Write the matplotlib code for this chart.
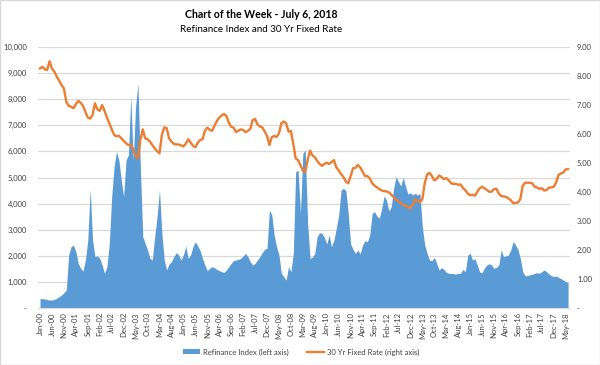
import numpy as np
import matplotlib
matplotlib.use('Agg')
import matplotlib.pyplot as plt
import pandas as pd
from matplotlib.lines import Line2D
from matplotlib.patches import Patch, Rectangle

plt.rcParams['font.family'] = ['Lato', 'DejaVu Sans']

months = pd.date_range('2000-01-01', '2018-06-01', freq='MS')

refi = [358, 358, 345, 320, 306, 306, 332, 370, 434, 498, 587, 690,
        2030, 2350, 2413, 2158, 1711, 1520, 1417, 1839, 2605, 4559, 2605, 1966,
        1992, 1903, 1647, 1328, 1583, 2477, 4265, 5415, 5989, 5670, 4904, 4265,
        5670, 5861, 8096, 5670, 7713, 8607, 5415, 2733, 2477, 2222, 1903, 1839,
        2733, 3499, 4520, 2860, 1839, 1456, 1686, 1775, 1966, 2120, 2030, 1839,
        2030, 2375, 1903, 2030, 2350, 2541, 2375, 2196, 1903, 1647, 1430, 1520,
        1583, 1545, 1481, 1430, 1392, 1366, 1456, 1583, 1711, 1813, 1839, 1864,
        1903, 1992, 2094, 1966, 1775, 1647, 1711, 1839, 1966, 2120, 2248, 2286,
        3754, 3563, 2797, 2350, 2030, 1328, 1200, 1073, 1583, 1392, 2094, 5223,
        5287, 3626, 5925, 6053, 3244, 1903, 1941, 2094, 2733, 2886, 2860, 2707,
        2452, 2797, 2350, 2605, 3052, 3563, 4520, 4584, 4495, 3627, 2452, 2248,
        2094, 2222, 2069, 2413, 2580, 2541, 2797, 3627, 3690, 3525, 3435, 3818,
        4291, 4137, 3716, 3882, 4584, 5031, 4840, 4674, 5006, 4648, 4367, 4418,
        4329, 4393, 4329, 4393, 3116, 2413, 2094, 1839, 1813, 1941, 1711, 1456,
        1545, 1481, 1366, 1328, 1328, 1315, 1302, 1328, 1328, 1481, 1392, 2030,
        2094, 1839, 1890, 1647, 1379, 1354, 1532, 1647, 1698, 1647, 1520, 1558,
        1647, 2222, 1966, 1992, 2030, 2222, 2541, 2413, 2248, 1903, 1392, 1239,
        1239, 1277, 1290, 1328, 1354, 1328, 1392, 1456, 1392, 1302, 1239, 1200,
        1226, 1175, 1124, 1073, 1009, 970]

rate = [8.26, 8.32, 8.23, 8.21, 8.51, 8.26, 8.15, 7.98, 7.84, 7.69, 7.57, 7.11,
        6.97, 6.94, 6.89, 7.03, 7.14, 7.08, 6.97, 6.76, 6.57, 6.53, 6.66, 7.06,
        6.85, 6.80, 7.00, 6.80, 6.57, 6.37, 6.16, 5.97, 5.92, 5.94, 5.85, 5.77,
        5.68, 5.62, 5.63, 5.47, 5.24, 5.16, 5.79, 6.16, 5.85, 5.82, 5.74, 5.62,
        5.51, 5.41, 5.33, 5.97, 6.23, 6.20, 5.85, 5.74, 5.66, 5.64, 5.64, 5.61,
        5.57, 5.66, 5.82, 5.71, 5.59, 5.54, 5.70, 5.79, 5.82, 6.11, 6.22, 6.14,
        6.11, 6.28, 6.45, 6.56, 6.64, 6.69, 6.62, 6.39, 6.25, 6.22, 6.07, 6.11,
        6.16, 6.14, 6.06, 6.11, 6.18, 6.48, 6.52, 6.33, 6.26, 6.23, 6.09, 5.94,
        5.62, 5.89, 5.93, 5.90, 6.02, 6.37, 6.43, 6.37, 6.08, 6.11, 5.66, 5.16,
        5.10, 4.92, 4.74, 4.70, 5.10, 5.43, 5.26, 5.20, 5.07, 4.97, 4.90, 4.97,
        5.01, 4.97, 5.03, 5.10, 4.85, 4.74, 4.62, 4.51, 4.36, 4.30, 4.55, 4.82,
        4.83, 4.93, 4.85, 4.70, 4.55, 4.55, 4.47, 4.30, 4.22, 4.16, 4.10, 4.05,
        4.03, 4.02, 3.99, 3.91, 3.82, 3.74, 3.69, 3.62, 3.55, 3.52, 3.47, 3.44,
        3.57, 3.75, 3.70, 3.64, 3.75, 4.30, 4.61, 4.66, 4.55, 4.40, 4.45, 4.57,
        4.52, 4.45, 4.48, 4.41, 4.30, 4.28, 4.28, 4.25, 4.26, 4.14, 4.06, 3.95,
        3.89, 3.91, 3.87, 4.01, 4.13, 4.18, 4.13, 4.07, 4.01, 4.01, 4.10, 4.11,
        3.95, 3.86, 3.85, 3.83, 3.78, 3.72, 3.62, 3.62, 3.64, 3.75, 4.21, 4.32,
        4.32, 4.32, 4.30, 4.18, 4.15, 4.11, 4.13, 4.05, 4.07, 4.15, 4.16, 4.18,
        4.33, 4.59, 4.64, 4.67, 4.78, 4.79]

left_ticks = [0, 1000, 2000, 3000, 4000, 5000, 6000, 7000, 8000, 9000, 10000]
right_ticks = [0, 1, 2, 3, 4, 5, 6, 7, 8, 9]
title = "Chart of the Week - July 6, 2018"
subtitle = "Refinance Index and 30 Yr Fixed Rate"
refi_label = "Refinance Index (left axis)"
rate_label = "30 Yr Fixed Rate (right axis)"

BLUE = '#5B9BD5'
ORANGE = '#ED7D31'
GRID = '#D9D9D9'
TXT = '#404040'

x = np.arange(len(months))
tick_idx = np.arange(0, len(months), 5)
tick_lbl = [months[i].strftime('%b-%y') for i in tick_idx]

fig = plt.figure(figsize=(6.0, 3.65), dpi=100)
ax = fig.add_axes([38/600, 57/365, 532/600, 261/365])
ax2 = ax.twinx()

ax.fill_between(x, 0, refi, color=BLUE, linewidth=0, zorder=2)
ax2.plot(x, rate, color=ORANGE, linewidth=1.7, zorder=3)

ax.set_xlim(-0.84, 221.8)
ax.set_ylim(0, 10000)
ax2.set_ylim(0, 9)

ax.set_yticks(left_ticks)
ax.set_yticklabels(['-' if v == 0 else f'{v:,}' for v in left_ticks])
ax2.set_yticks(right_ticks)
ax2.set_yticklabels(['-' if v == 0 else f'{v:.2f}' for v in right_ticks])

ax.set_xticks(tick_idx)
ax.set_xticklabels(tick_lbl, rotation=90)

ax.grid(axis='y', color=GRID, linewidth=0.9, zorder=0)
ax.set_axisbelow(True)
for a in (ax, ax2):
    for s in a.spines.values():
        s.set_visible(False)
ax.spines['bottom'].set_visible(True)
ax.spines['bottom'].set_color(GRID)

ax.tick_params(axis='both', length=0, labelsize=5.5, colors=TXT)
ax.tick_params(axis='y', pad=8)
ax.tick_params(axis='x', pad=3)
ax2.tick_params(axis='y', length=0, labelsize=5.5, colors=TXT, pad=5)

fig.text(261/600, 1 - 15/365, title, ha='center', va='center',
         fontsize=7.6, fontweight='bold', color='#000000')
fig.text(261/600, 1 - 30/365, subtitle, ha='center', va='center',
         fontsize=7.1, color='#000000')

handles = [Patch(facecolor=BLUE, edgecolor='none'),
           Line2D([0], [0], color=ORANGE, linewidth=1.7)]
fig.legend(handles, [refi_label, rate_label], loc='center',
           bbox_to_anchor=(301/600, 1 - 352/365), ncol=2, frameon=False,
           fontsize=5.5, handlelength=2.2, handleheight=0.6,
           columnspacing=2.4, handletextpad=0.4, labelcolor=TXT)

fig.patches.append(Rectangle((0, 0), 1, 1, transform=fig.transFigure,
                             fill=False, edgecolor=GRID, linewidth=1.0))

fig.savefig('out.png', dpi=100)
